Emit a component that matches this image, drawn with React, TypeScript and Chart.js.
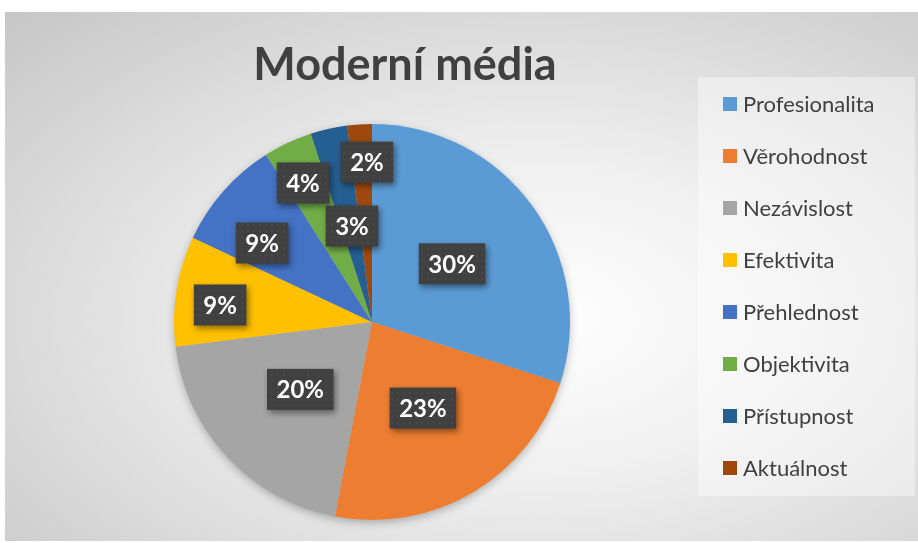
import { useEffect, useRef } from "react";
import { Chart, registerables } from "chart.js";

Chart.register(...registerables);

const chartTitle = "Moderní média";
const categories = [
  "Profesionalita",
  "Věrohodnost",
  "Nezávislost",
  "Efektivita",
  "Přehlednost",
  "Objektivita",
  "Přístupnost",
  "Aktuálnost",
];
const shares = [30, 23, 20, 9, 9, 4, 3, 2];
const sliceColors = ["#5B9BD5", "#ED7D31", "#A5A5A5", "#FFC000", "#4472C4", "#70AD47", "#255E91", "#9E480E"];
// data-label placement (style): fraction of radius and angular nudge in degrees
const labelRadius = [0.5, 0.505, 0.497, 0.772, 0.684, 0.784, 0.495, 0.808];
const labelAngleShift = [0, 0, 0, -2.6, -5.7, -1.2, 0.8, 1.8];

const FONT = "Lato, 'Open Sans', sans-serif";

function makePattern(ctx: CanvasRenderingContext2D) {
  const c = document.createElement("canvas");
  c.width = 6;
  c.height = 6;
  const p = c.getContext("2d")!;
  p.fillStyle = "#404040";
  p.fillRect(0, 0, 6, 6);
  p.fillStyle = "#484848";
  p.fillRect(2, 2, 2, 2);
  return ctx.createPattern(c, "repeat");
}

const overlayPlugin = {
  id: "overlay",
  beforeDatasetsDraw(chart: any) {
    const meta = chart.getDatasetMeta(0);
    const arc = meta.data[0];
    if (!arc) return;
    const { x, y, outerRadius } = arc.getProps(["x", "y", "outerRadius"], true);
    const ctx = chart.ctx;
    ctx.save();
    ctx.shadowColor = "rgba(0,0,0,0.3)";
    ctx.shadowBlur = 10;
    ctx.shadowOffsetY = 3;
    ctx.beginPath();
    ctx.arc(x, y, outerRadius - 1, 0, Math.PI * 2);
    ctx.fillStyle = "#bbbbbb";
    ctx.fill();
    ctx.restore();
  },
  afterDraw(chart: any) {
    const ctx: CanvasRenderingContext2D = chart.ctx;
    const labels: string[] = chart.data.labels;
    const ds = chart.data.datasets[0];
    const values: number[] = ds.data;
    const total = values.reduce((a, b) => a + b, 0);

    // title
    ctx.save();
    ctx.font = `bold 45px ${FONT}`;
    ctx.fillStyle = "#404040";
    ctx.textAlign = "center";
    ctx.textBaseline = "alphabetic";
    ctx.fillText(chartTitle, 400, 68);
    ctx.restore();

    // legend
    ctx.save();
    ctx.fillStyle = "rgba(255,255,255,0.4)";
    ctx.fillRect(693, 65, 217, 419);
    ctx.font = `22px ${FONT}`;
    ctx.textBaseline = "middle";
    ctx.textAlign = "left";
    labels.forEach((lab, i) => {
      const cy = 92 + i * 52;
      ctx.fillStyle = ds.backgroundColor[i];
      ctx.fillRect(718, cy - 7, 14, 14);
      ctx.fillStyle = "#404040";
      ctx.fillText(lab, 738, cy + 1);
    });
    ctx.restore();

    // data labels
    const meta = chart.getDatasetMeta(0);
    const pattern = makePattern(ctx);
    meta.data.forEach((arc: any, i: number) => {
      const { x, y, startAngle, endAngle, outerRadius } = arc.getProps(
        ["x", "y", "startAngle", "endAngle", "outerRadius"],
        true
      );
      const mid = (startAngle + endAngle) / 2 + (labelAngleShift[i] * Math.PI) / 180;
      const r = outerRadius * labelRadius[i];
      const lx = x + Math.cos(mid) * r;
      const ly = y + Math.sin(mid) * r;
      const text = Math.round((values[i] / total) * 100) + "%";
      ctx.save();
      ctx.font = `bold 24px ${FONT}`;
      const w = ctx.measureText(text).width + 19;
      const h = 41;
      ctx.shadowColor = "rgba(0,0,0,0.45)";
      ctx.shadowBlur = 6;
      ctx.shadowOffsetX = 2;
      ctx.shadowOffsetY = 3;
      ctx.fillStyle = pattern || "#404040";
      ctx.fillRect(lx - w / 2, ly - h / 2, w, h);
      ctx.shadowColor = "transparent";
      ctx.fillStyle = "#ffffff";
      ctx.textAlign = "center";
      ctx.textBaseline = "middle";
      ctx.fillText(text, lx, ly + 1);
      ctx.restore();
    });
  },
};

export default function App() {
  const canvasRef = useRef<HTMLCanvasElement | null>(null);

  useEffect(() => {
    if (!canvasRef.current) return;
    const chart = new Chart(canvasRef.current, {
      type: "pie",
      data: {
        labels: categories,
        datasets: [
          {
            data: shares,
            backgroundColor: sliceColors,
            borderWidth: 0,
          },
        ],
      },
      options: {
        animation: false,
        responsive: true,
        maintainAspectRatio: false,
        layout: { padding: { top: 112, bottom: 21, left: 0, right: 179 } },
        plugins: {
          legend: { display: false },
          title: { display: false },
          tooltip: { enabled: false },
        },
      },
      plugins: [overlayPlugin],
    });
    return () => chart.destroy();
  }, []);

  return (
    <div
      style={{
        position: "absolute",
        left: 5,
        top: 12,
        width: 913,
        height: 529,
        background:
          "radial-gradient(ellipse at 58% 58%, #ffffff 0%, #f0f0f0 35%, #d6d6d6 75%, #c6c6c6 100%)",
      }}
    >
      <canvas ref={canvasRef} />
    </div>
  );
}
